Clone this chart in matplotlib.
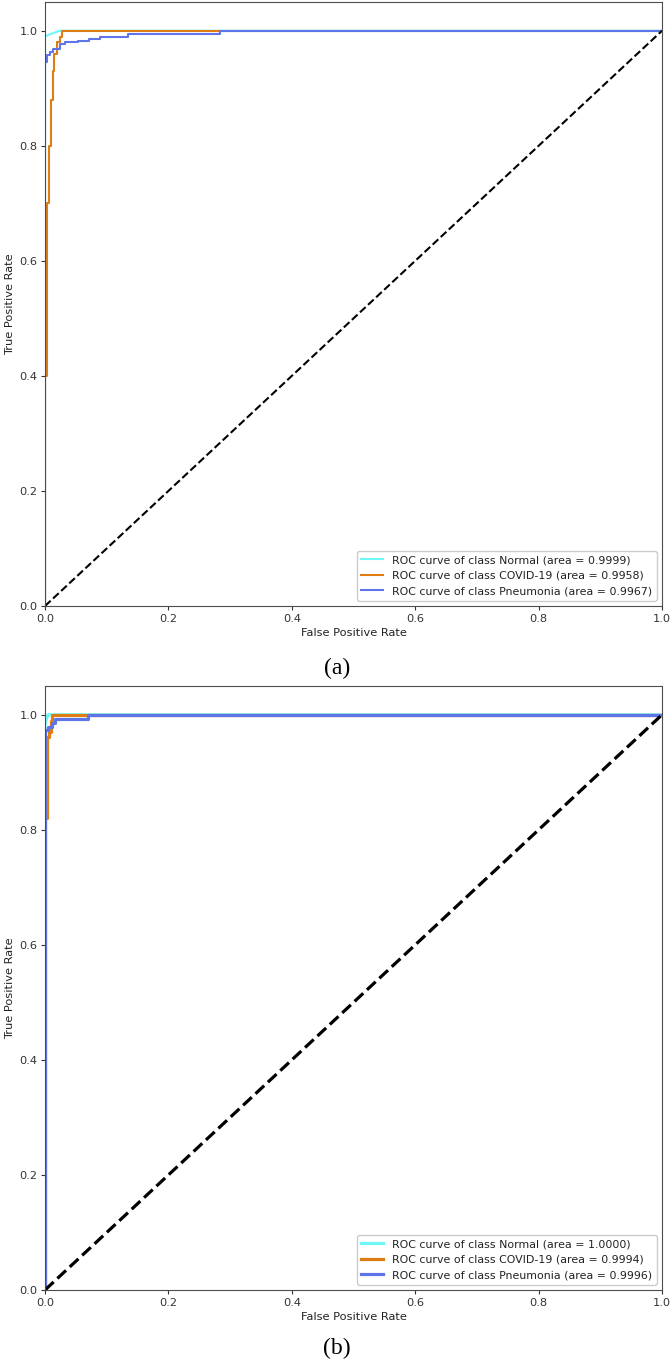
import matplotlib
matplotlib.use("Agg")
import matplotlib.pyplot as plt

# ── look: default matplotlib, scaled down ─────────────────────
plt.rcParams.update({
    "font.family": "DejaVu Sans",
    "font.size": 8.2,
    "axes.edgecolor": "#4d4d4d",
    "xtick.major.size": 2.7,
    "ytick.major.size": 2.7,
    "xtick.major.pad": 2.7,
    "ytick.major.pad": 2.7,
    "xtick.color": "#333333",
    "ytick.color": "#333333",
    "text.color": "#222222",
    "axes.labelcolor": "#222222",
})

CLASSES = ["Normal", "COVID-19", "Pneumonia"]
COLORS = ["#6ff7f7", "#e07d12", "#5f74e8"]

# ── panel (a) ─────────────────────────────────────────────────
auc_a = [0.9999, 0.9958, 0.9967]
fpr_a_normal = [0.0, 0.0, 0.008, 0.016, 0.024, 1.0]
tpr_a_normal = [0.0, 0.99, 0.994, 0.997, 1.0, 1.0]

fpr_a_covid = [0.0, 0.0, 0.003, 0.003, 0.007, 0.007, 0.009, 0.009, 0.0125, 0.0125,
               0.0146, 0.0146, 0.019, 0.019, 0.024, 0.024, 0.028, 0.028, 1.0]
tpr_a_covid = [0.0, 0.40, 0.40, 0.70, 0.70, 0.80, 0.80, 0.88, 0.88, 0.93,
               0.93, 0.96, 0.96, 0.98, 0.98, 0.99, 0.99, 1.0, 1.0]

fpr_a_pneu = [0.0, 0.0, 0.004, 0.004, 0.008, 0.008, 0.0125, 0.0125, 0.024, 0.024,
              0.032, 0.032, 0.053, 0.053, 0.072, 0.072, 0.089, 0.089, 0.135, 0.135,
              0.284, 0.284, 1.0]
tpr_a_pneu = [0.0, 0.945, 0.945, 0.958, 0.958, 0.963, 0.963, 0.969, 0.969, 0.977,
              0.977, 0.980, 0.980, 0.982, 0.982, 0.985, 0.985, 0.989, 0.989, 0.995,
              0.995, 1.0, 1.0]

# ── panel (b) ─────────────────────────────────────────────────
auc_b = [1.0000, 0.9994, 0.9996]
fpr_b_normal = [0.0, 0.0, 0.003, 0.005, 1.0]
tpr_b_normal = [0.0, 0.985, 0.995, 1.0, 1.0]

fpr_b_covid = [0.0, 0.0, 0.003, 0.003, 0.006, 0.006, 0.009, 0.009, 0.011, 0.011, 1.0]
tpr_b_covid = [0.0, 0.82, 0.82, 0.962, 0.962, 0.97, 0.97, 0.99, 0.99, 1.0, 1.0]

fpr_b_pneu = [0.0, 0.0, 0.005, 0.005, 0.011, 0.011, 0.016, 0.016, 0.07, 0.07, 1.0]
tpr_b_pneu = [0.0, 0.974, 0.974, 0.978, 0.978, 0.986, 0.986, 0.993, 0.993, 1.0, 1.0]

W, H = 672, 1365
fig = plt.figure(figsize=(W / 100, H / 100), dpi=100)
fig.patch.set_facecolor("white")


def roc_panel(rect, fprs, tprs, aucs, lw):
    ax = fig.add_axes(rect)
    for fpr, tpr, name, col, a in zip(fprs, tprs, CLASSES, COLORS, aucs):
        ax.plot(fpr, tpr, color=col, lw=lw,
                label=f"ROC curve of class {name} (area = {a:0.4f})")
    ax.plot([0, 1], [0, 1], "k--", lw=lw)
    ax.set_xlim(0.0, 1.0)
    ax.set_ylim(0.0, 1.05)
    ax.set_xlabel("False Positive Rate", labelpad=3)
    ax.set_ylabel("True Positive Rate", labelpad=3)
    ax.legend(loc="lower right", fontsize=7.9, framealpha=1,
              borderpad=0.4, handlelength=2.0)
    return ax


ax_h = 604 / H
roc_panel([45 / W, (H - 606) / H, 617 / W, ax_h],
          [fpr_a_normal, fpr_a_covid, fpr_a_pneu],
          [tpr_a_normal, tpr_a_covid, tpr_a_pneu], auc_a, lw=1.5)
roc_panel([45 / W, (H - 1290) / H, 617 / W, ax_h],
          [fpr_b_normal, fpr_b_covid, fpr_b_pneu],
          [tpr_b_normal, tpr_b_covid, tpr_b_pneu], auc_b, lw=2.3)

# captions
fig.text(337 / W, 1 - 668 / H, "(a)", ha="center", va="center",
         family="Liberation Serif", fontsize=17, color="black")
fig.text(337 / W, 1 - 1348 / H, "(b)", ha="center", va="center",
         family="Liberation Serif", fontsize=17, color="black")

fig.savefig("out.png", dpi=100, facecolor="white")
